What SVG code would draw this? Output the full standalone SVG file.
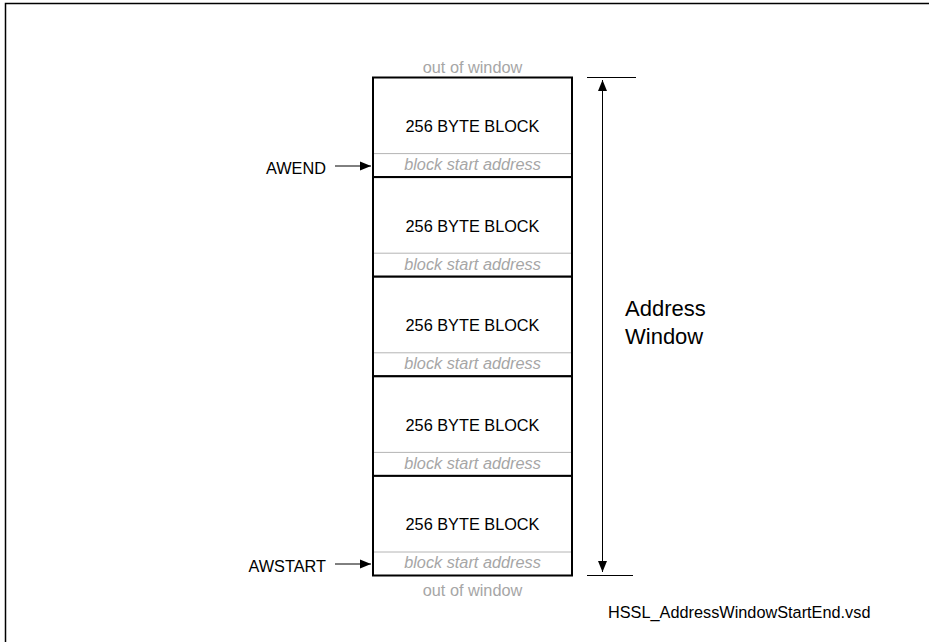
<svg xmlns="http://www.w3.org/2000/svg" width="929" height="642" viewBox="0 0 929 642">
<style>
text{font-family:"Liberation Sans",Arial,sans-serif;font-size:16.3px}
.blk{fill:#fff;stroke:#000;stroke-width:2}
.sep{stroke:#b4b4b4;stroke-width:1}
.lbl{fill:#000;text-anchor:middle}
.addr{fill:#a6a6a6;font-style:italic;text-anchor:middle}
.grey{fill:#a6a6a6;text-anchor:middle}
.ln{stroke:#000;stroke-width:1;fill:none}
.big{font-size:22px}
</style>
<defs>
<marker id="ah" viewBox="0 0 11 10" refX="11" refY="5" markerWidth="11" markerHeight="10" markerUnits="userSpaceOnUse" orient="auto">
<path d="M0,0.5 L11,5 L0,9.5 Z" fill="#000"/>
</marker>
</defs>
<rect width="929" height="642" fill="#fff"/>
<path d="M5.5,642 V3.5 H929" fill="none" stroke="#000" stroke-width="1.5"/>
<text class="grey" x="472.5" y="73">out of window</text>
<g id="block1">
<rect class="blk" x="373" y="77.5" width="199" height="99.6"/>
<line class="sep" x1="374" y1="153.6" x2="571" y2="153.6"/>
<text class="lbl" x="472.5" y="132">256 BYTE BLOCK</text>
<text class="addr" x="472.5" y="170">block start address</text>
</g>
<g id="block2">
<rect class="blk" x="373" y="177.1" width="199" height="99.6"/>
<line class="sep" x1="374" y1="253.2" x2="571" y2="253.2"/>
<text class="lbl" x="472.5" y="231.6">256 BYTE BLOCK</text>
<text class="addr" x="472.5" y="269.6">block start address</text>
</g>
<g id="block3">
<rect class="blk" x="373" y="276.7" width="199" height="99.6"/>
<line class="sep" x1="374" y1="352.8" x2="571" y2="352.8"/>
<text class="lbl" x="472.5" y="331.2">256 BYTE BLOCK</text>
<text class="addr" x="472.5" y="369.2">block start address</text>
</g>
<g id="block4">
<rect class="blk" x="373" y="376.3" width="199" height="99.6"/>
<line class="sep" x1="374" y1="452.4" x2="571" y2="452.4"/>
<text class="lbl" x="472.5" y="430.8">256 BYTE BLOCK</text>
<text class="addr" x="472.5" y="468.8">block start address</text>
</g>
<g id="block5">
<rect class="blk" x="373" y="475.9" width="199" height="99.6"/>
<line class="sep" x1="374" y1="552" x2="571" y2="552"/>
<text class="lbl" x="472.5" y="530.4">256 BYTE BLOCK</text>
<text class="addr" x="472.5" y="568.4">block start address</text>
</g>
<text class="grey" x="472.5" y="596">out of window</text>
<g id="awend">
<text x="326" y="174" text-anchor="end">AWEND</text>
</g>
<g id="awstart">
<text x="326" y="572" text-anchor="end">AWSTART</text>
</g>
<g id="address-window">
<text class="big" x="625" y="316">Address</text>
<text class="big" x="625" y="344">Window</text>
</g>
<g id="connectors">
<line class="ln" x1="335" y1="166" x2="371" y2="166" marker-end="url(#ah)"/>
<line class="ln" x1="335" y1="564" x2="371" y2="564" marker-end="url(#ah)"/>
<line class="ln" x1="587" y1="77.5" x2="636" y2="77.5"/>
<line class="ln" x1="587" y1="575.5" x2="633" y2="575.5"/>
<line class="ln" x1="602.5" y1="327" x2="602.5" y2="80" marker-end="url(#ah)"/>
<line class="ln" x1="602.5" y1="327" x2="602.5" y2="572" marker-end="url(#ah)"/>
</g>
<text x="608" y="618">HSSL_AddressWindowStartEnd.vsd</text>
</svg>
